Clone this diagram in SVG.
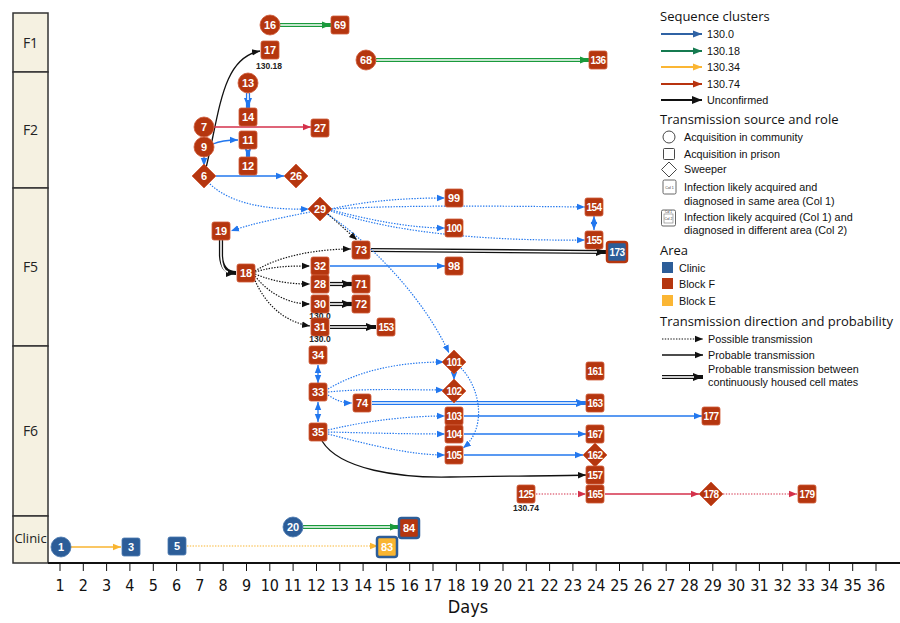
<svg xmlns="http://www.w3.org/2000/svg" width="900" height="623" viewBox="0 0 900 623">
<defs>
<style>
.lane{fill:#f5f1e1;stroke:#333;stroke-width:1.5}
.lt{font-family:"Open Sans","Liberation Sans",sans-serif;font-size:14px;fill:#222;text-anchor:middle}
.sq{fill:#b5360f;stroke:#cf5a38;stroke-width:0.8}
.bl{fill:#2c5d98;stroke:#4a78b0;stroke-width:0.8}
.t{font-family:"Liberation Sans",Arial,sans-serif;font-weight:bold;font-size:11px;fill:#fff;text-anchor:middle;dominant-baseline:central}
.t3{font-size:10px;letter-spacing:-0.5px}
.cl{font-family:"Liberation Sans",Arial,sans-serif;font-weight:bold;font-size:8.5px;fill:#222;text-anchor:middle}
.e{fill:none;stroke-width:1.3}
.eB{stroke:#2277ee}.eK{stroke:#111}.eR{stroke:#d4314b}.eG{stroke:#1a9a3c}.eY{stroke:#f9b531}
.d{stroke-dasharray:1.4 1.4;stroke-width:1.2}
.dbl{stroke-width:4.2}
.w{fill:none;stroke:#fff;stroke-width:1.6}
.ax{font-family:"Liberation Sans Narrow","DejaVu Sans Condensed","Liberation Sans",sans-serif;font-size:16px;fill:#111;text-anchor:middle}
.lh{font-family:"Open Sans","Liberation Sans",sans-serif;font-size:13px;fill:#111}
.li{font-family:"Liberation Sans",Arial,sans-serif;font-size:10.8px;fill:#111}
</style>
<marker id="aB" viewBox="0 0 10 10" refX="10" refY="5" markerWidth="8" markerHeight="8" markerUnits="userSpaceOnUse" orient="auto-start-reverse"><path d="M0,1 L10,5 L0,9 z" fill="#2277ee"/></marker>
<marker id="aK" viewBox="0 0 10 10" refX="10" refY="5" markerWidth="8" markerHeight="8" markerUnits="userSpaceOnUse" orient="auto"><path d="M0,1 L10,5 L0,9 z" fill="#111"/></marker>
<marker id="aR" viewBox="0 0 10 10" refX="10" refY="5" markerWidth="8" markerHeight="8" markerUnits="userSpaceOnUse" orient="auto"><path d="M0,1 L10,5 L0,9 z" fill="#d4314b"/></marker>
<marker id="aG" viewBox="0 0 10 10" refX="10" refY="5" markerWidth="9" markerHeight="9" markerUnits="userSpaceOnUse" orient="auto"><path d="M0,1 L10,5 L0,9 z" fill="#1a9a3c"/></marker>
<marker id="aY" viewBox="0 0 10 10" refX="10" refY="5" markerWidth="8" markerHeight="8" markerUnits="userSpaceOnUse" orient="auto"><path d="M0,1 L10,5 L0,9 z" fill="#f9b531"/></marker>
<marker id="aK2" viewBox="0 0 10 10" refX="10" refY="5" markerWidth="10" markerHeight="10" markerUnits="userSpaceOnUse" orient="auto"><path d="M0,1 L10,5 L0,9 z" fill="#111"/></marker>
<marker id="aB2" viewBox="0 0 10 10" refX="10" refY="5" markerWidth="10" markerHeight="10" markerUnits="userSpaceOnUse" orient="auto"><path d="M0,1 L10,5 L0,9 z" fill="#2277ee"/></marker>
<marker id="lB" viewBox="0 0 10 10" refX="10" refY="5" markerWidth="9" markerHeight="9" markerUnits="userSpaceOnUse" orient="auto"><path d="M0,1 L10,5 L0,9 z" fill="#2f62a4"/></marker>
<marker id="lG" viewBox="0 0 10 10" refX="10" refY="5" markerWidth="9" markerHeight="9" markerUnits="userSpaceOnUse" orient="auto"><path d="M0,1 L10,5 L0,9 z" fill="#157a50"/></marker>
<marker id="lY" viewBox="0 0 10 10" refX="10" refY="5" markerWidth="9" markerHeight="9" markerUnits="userSpaceOnUse" orient="auto"><path d="M0,1 L10,5 L0,9 z" fill="#fbb634"/></marker>
<marker id="lR" viewBox="0 0 10 10" refX="10" refY="5" markerWidth="9" markerHeight="9" markerUnits="userSpaceOnUse" orient="auto"><path d="M0,1 L10,5 L0,9 z" fill="#b8330f"/></marker>
</defs>
<rect width="900" height="623" fill="#fff"/>

<!-- lanes -->
<g id="lanes">
<rect class="lane" x="13" y="13" width="35" height="59"/>
<rect class="lane" x="13" y="72" width="35" height="116"/>
<rect class="lane" x="13" y="188" width="35" height="158"/>
<rect class="lane" x="13" y="346" width="35" height="170"/>
<rect class="lane" x="13" y="516" width="35" height="47"/>
<text class="lt" x="30.5" y="48">F1</text>
<text class="lt" x="30.5" y="135">F2</text>
<text class="lt" x="30.5" y="272">F5</text>
<text class="lt" x="30.5" y="436">F6</text>
<text class="lt" x="30.5" y="543" style="font-size:13px">Clinic</text>
</g>

<!-- axis -->
<g id="axis">
<line x1="48" y1="563" x2="900" y2="563" stroke="#111" stroke-width="2"/>
<path stroke="#111" stroke-width="1" d="M60,563v8M83.3,563v8M106.6,563v8M129.9,563v8M153.3,563v8M176.6,563v8M199.9,563v8M223.2,563v8M246.5,563v8M269.8,563v8M293.1,563v8M316.5,563v8M339.8,563v8M363.1,563v8M386.4,563v8M409.7,563v8M433,563v8M456.3,563v8M479.7,563v8M503,563v8M526.3,563v8M549.6,563v8M572.9,563v8M596.2,563v8M619.5,563v8M642.9,563v8M666.2,563v8M689.5,563v8M712.8,563v8M736.1,563v8M759.4,563v8M782.7,563v8M806.1,563v8M829.4,563v8M852.7,563v8M876,563v8"/>
<g class="ax">
<text x="60" y="591">1</text><text x="83.3" y="591">2</text><text x="106.6" y="591">3</text><text x="129.9" y="591">4</text><text x="153.3" y="591">5</text><text x="176.6" y="591">6</text><text x="199.9" y="591">7</text><text x="223.2" y="591">8</text><text x="246.5" y="591">9</text><text x="269.8" y="591">10</text><text x="293.1" y="591">11</text><text x="316.5" y="591">12</text><text x="339.8" y="591">13</text><text x="363.1" y="591">14</text><text x="386.4" y="591">15</text><text x="409.7" y="591">16</text><text x="433" y="591">17</text><text x="456.3" y="591">18</text><text x="479.7" y="591">19</text><text x="503" y="591">20</text><text x="526.3" y="591">21</text><text x="549.6" y="591">22</text><text x="572.9" y="591">23</text><text x="596.2" y="591">24</text><text x="619.5" y="591">25</text><text x="642.9" y="591">26</text><text x="666.2" y="591">27</text><text x="689.5" y="591">28</text><text x="712.8" y="591">29</text><text x="736.1" y="591">30</text><text x="759.4" y="591">31</text><text x="782.7" y="591">32</text><text x="806.1" y="591">33</text><text x="829.4" y="591">34</text><text x="852.7" y="591">35</text><text x="876" y="591">36</text>
<text x="468" y="613" style="font-size:18px">Days</text>
</g>
</g>

<!-- connectors -->
<g id="connectors">
<!-- double lines -->
<path class="e eG dbl" d="M280,25 L331,25" marker-end="url(#aG)"/><path class="w" d="M280,25 L322,25"/>
<path class="e eG dbl" d="M376,60 L589,60" marker-end="url(#aG)"/><path class="w" d="M376,60 L580,60"/>
<path class="e eG dbl" d="M303,527 L399,527" marker-end="url(#aG)"/><path class="w" d="M303,527 L390,527"/>
<path class="e eB dbl" d="M248,93 L248,108" marker-end="url(#aB2)"/><path class="w" d="M248,93 L248,100"/>
<path class="e eB dbl" d="M248,149 L248,157" marker-end="url(#aB2)"/><path class="w" d="M248,149 L248,150"/>
<path class="e eK dbl" d="M221,240 L221,256 Q222,273 236,273" marker-end="url(#aK2)"/><path class="w" d="M221,240 L221,256 Q222,271 228,272"/>
<path class="e eK dbl" d="M371,250 L606,252" marker-end="url(#aK2)"/><path class="w" d="M371,250 L597,252"/>
<path class="e eK dbl" d="M330,284 L352,284" marker-end="url(#aK2)"/><path class="w" d="M330,284 L343,284"/>
<path class="e eK dbl" d="M330,304 L352,304" marker-end="url(#aK2)"/><path class="w" d="M330,304 L343,304"/>
<path class="e eK dbl" d="M330,327 L376,327" marker-end="url(#aK2)"/><path class="w" d="M330,327 L367,327"/>
<path class="e eB dbl" d="M372,403 L586,403" marker-end="url(#aB2)"/><path class="w" d="M372,403 L577,403"/>

<!-- solid -->
<path class="e eK" d="M206,168 C220,110 222,58 260,51" marker-end="url(#aK)"/>
<path class="e eR" d="M214,127 L311,127" marker-end="url(#aR)"/>
<path class="e eB" d="M213,144 C222,140 230,140 238,140" marker-end="url(#aB)"/>
<path class="e eB" d="M204,157 L204,166" marker-end="url(#aB)"/>
<path class="e eB" d="M216,176 L284,176" marker-end="url(#aB)"/>
<path class="e eB" d="M594,216 L594,230" marker-start="url(#aB)" marker-end="url(#aB)"/>
<path class="e eB" d="M330,266 L445,266" marker-end="url(#aB)"/>
<path class="e eB" d="M318,365 L318,383" marker-start="url(#aB)" marker-end="url(#aB)"/>
<path class="e eB" d="M318,402 L318,422" marker-start="url(#aB)" marker-end="url(#aB)"/>
<path class="e eB" d="M454,373 L454,380" marker-end="url(#aB)"/>
<path class="e eB" d="M464,416 L702,416" marker-end="url(#aB)"/>
<path class="e eB" d="M464,434 L586,434" marker-end="url(#aB)"/>
<path class="e eB" d="M464,455 L583,455" marker-end="url(#aB)"/>
<path class="e eK" d="M322,441 C340,470 400,478 450,477 C500,476 550,476 586,475" marker-end="url(#aK)"/>
<path class="e eR" d="M605,494 L699,494" marker-end="url(#aR)"/>
<path class="e eY" d="M71,547 L121,547" marker-end="url(#aY)"/>

<!-- dotted -->
<path class="e eB d" d="M208,182 C230,205 270,210 309,209" marker-end="url(#aB)"/>
<path class="e eB d" d="M310,212 C280,218 250,224 231,231" marker-end="url(#aB)"/>
<path class="e eB d" d="M331,209 C370,200 410,198 445,198" marker-end="url(#aB)"/>
<path class="e eB d" d="M332,209 C400,205 500,206 585,207" marker-end="url(#aB)"/>
<path class="e eB d" d="M331,210 C370,220 410,228 445,228" marker-end="url(#aB)"/>
<path class="e eB d" d="M331,211 C400,235 500,241 585,240" marker-end="url(#aB)"/>
<path class="e eK d" d="M328,214 L357,240" marker-end="url(#aK)"/>
<path class="e eB d" d="M327,214 C360,235 420,290 449,353" marker-end="url(#aB)"/>
<path class="e eK d" d="M255,271 C280,255 320,249 351,249" marker-end="url(#aK)"/>
<path class="e eK d" d="M255,272 C275,266 290,266 310,266" marker-end="url(#aK)"/>
<path class="e eK d" d="M255,274 C275,282 290,284 310,284" marker-end="url(#aK)"/>
<path class="e eK d" d="M255,276 C270,295 290,304 310,304" marker-end="url(#aK)"/>
<path class="e eK d" d="M254,278 C265,305 285,322 310,326" marker-end="url(#aK)"/>
<path class="e eB d" d="M328,389 C360,370 400,362 444,362" marker-end="url(#aB)"/>
<path class="e eB d" d="M328,392 C370,388 410,390 444,390" marker-end="url(#aB)"/>
<path class="e eB d" d="M328,395 C335,400 343,403 352,403" marker-end="url(#aB)"/>
<path class="e eB d" d="M461,368 C482,390 486,430 463,448" marker-end="url(#aB)"/>
<path class="e eB d" d="M328,430 C370,420 410,416 445,416" marker-end="url(#aB)"/>
<path class="e eB d" d="M328,432 C370,433 410,434 445,434" marker-end="url(#aB)"/>
<path class="e eB d" d="M328,434 C370,445 410,455 445,455" marker-end="url(#aB)"/>
<path class="e eR d" d="M536,494 L586,494" marker-end="url(#aR)"/>
<path class="e eR d" d="M723,494 L797,494" marker-end="url(#aR)"/>
<path class="e eY d" d="M187,546 L378,546" marker-end="url(#aY)"/>
</g>

<!-- nodes -->
<g id="n16"><circle class="sq" cx="270" cy="25" r="10"/><text class="t" x="270" y="25">16</text></g>
<g id="n69"><rect class="sq" x="331" y="16" width="18" height="18" rx="2"/><text class="t" x="340" y="25">69</text></g>
<g id="n17"><rect class="sq" x="261" y="41" width="18" height="18" rx="2"/><text class="t" x="270" y="50">17</text><text class="cl" x="269" y="69">130.18</text></g>
<g id="n68"><circle class="sq" cx="366" cy="60" r="10"/><text class="t" x="366" y="60">68</text></g>
<g id="n136"><rect class="sq" x="589" y="51" width="18" height="18" rx="2"/><text class="t t3" x="598" y="60">136</text></g>
<g id="n13"><circle class="sq" cx="248" cy="83" r="10"/><text class="t" x="248" y="83">13</text></g>
<g id="n14"><rect class="sq" x="239" y="108" width="18" height="18" rx="2"/><text class="t" x="248" y="117">14</text></g>
<g id="n7"><circle class="sq" cx="204" cy="127" r="10"/><text class="t" x="204" y="127">7</text></g>
<g id="n27"><rect class="sq" x="311" y="119" width="18" height="18" rx="2"/><text class="t" x="320" y="128">27</text></g>
<g id="n9"><circle class="sq" cx="204" cy="147" r="10"/><text class="t" x="204" y="147">9</text></g>
<g id="n11"><rect class="sq" x="239" y="131" width="18" height="18" rx="2"/><text class="t" x="248" y="140">11</text></g>
<g id="n12"><rect class="sq" x="239" y="157" width="18" height="18" rx="2"/><text class="t" x="248" y="166">12</text></g>
<g id="n6"><polygon class="sq" points="204,164 216,176 204,188 192,176"/><text class="t" x="204" y="176">6</text></g>
<g id="n26"><polygon class="sq" points="296,164 308,176 296,188 284,176"/><text class="t" x="296" y="176">26</text></g>
<g id="n29"><polygon class="sq" points="320,197 332,209 320,221 308,209"/><text class="t" x="320" y="209">29</text></g>
<g id="n99"><rect class="sq" x="445" y="189" width="18" height="18" rx="2"/><text class="t" x="454" y="198">99</text></g>
<g id="n154"><rect class="sq" x="585" y="198" width="18" height="18" rx="2"/><text class="t t3" x="594" y="207">154</text></g>
<g id="n19"><rect class="sq" x="212" y="222" width="18" height="18" rx="2"/><text class="t" x="221" y="231">19</text></g>
<g id="n100"><rect class="sq" x="445" y="219" width="18" height="18" rx="2"/><text class="t t3" x="454" y="228">100</text></g>
<g id="n155"><rect class="sq" x="585" y="231" width="18" height="18" rx="2"/><text class="t t3" x="594" y="240">155</text></g>
<g id="n173"><rect x="607" y="242" width="20" height="20" rx="2.5" fill="#2c5d98" stroke="#b5360f" stroke-width="2.5"/><text class="t t3" x="617" y="252">173</text></g>
<g id="n73"><rect class="sq" x="352" y="241" width="18" height="18" rx="2"/><text class="t" x="361" y="250">73</text></g>
<g id="n18"><rect class="sq" x="237" y="264" width="18" height="18" rx="2"/><text class="t" x="246" y="273">18</text></g>
<g id="n32"><rect class="sq" x="311" y="257" width="18" height="18" rx="2"/><text class="t" x="320" y="266">32</text></g>
<g id="n98"><rect class="sq" x="445" y="257" width="18" height="18" rx="2"/><text class="t" x="454" y="266">98</text></g>
<g id="n28"><rect class="sq" x="311" y="275" width="18" height="18" rx="2"/><text class="t" x="320" y="284">28</text></g>
<g id="n71"><rect class="sq" x="352" y="275" width="18" height="18" rx="2"/><text class="t" x="361" y="284">71</text></g>
<g id="n30"><rect class="sq" x="311" y="295" width="18" height="18" rx="2"/><text class="t" x="320" y="304">30</text><text class="cl" x="320" y="318.5">130.0</text></g>
<g id="n72"><rect class="sq" x="352" y="295" width="18" height="18" rx="2"/><text class="t" x="361" y="304">72</text></g>
<g id="n31"><rect class="sq" x="311" y="318" width="18" height="18" rx="2"/><text class="t" x="320" y="327">31</text><text class="cl" x="320" y="341.5">130.0</text></g>
<g id="n153"><rect class="sq" x="377" y="318" width="18" height="18" rx="2"/><text class="t t3" x="386" y="327">153</text></g>
<g id="n34"><rect class="sq" x="309" y="346" width="18" height="18" rx="2"/><text class="t" x="318" y="355">34</text></g>
<g id="n33"><rect class="sq" x="309" y="383" width="18" height="18" rx="2"/><text class="t" x="318" y="392">33</text></g>
<g id="n101"><polygon class="sq" points="454,350 466,362 454,374 442,362"/><text class="t t3" x="454" y="362">101</text></g>
<g id="n102"><polygon class="sq" points="454,379 466,391 454,403 442,391"/><text class="t t3" x="454" y="391">102</text></g>
<g id="n74"><rect class="sq" x="353" y="394" width="18" height="18" rx="2"/><text class="t" x="362" y="403">74</text></g>
<g id="n161"><rect class="sq" x="586" y="362" width="18" height="18" rx="2"/><text class="t t3" x="595" y="371">161</text></g>
<g id="n163"><rect class="sq" x="586" y="394" width="18" height="18" rx="2"/><text class="t t3" x="595" y="403">163</text></g>
<g id="n103"><rect class="sq" x="445" y="407" width="18" height="18" rx="2"/><text class="t t3" x="454" y="416">103</text></g>
<g id="n177"><rect class="sq" x="702" y="407" width="18" height="18" rx="2"/><text class="t t3" x="711" y="416">177</text></g>
<g id="n35"><rect class="sq" x="309" y="423" width="18" height="18" rx="2"/><text class="t" x="318" y="432">35</text></g>
<g id="n104"><rect class="sq" x="445" y="425" width="18" height="18" rx="2"/><text class="t t3" x="454" y="434">104</text></g>
<g id="n167"><rect class="sq" x="586" y="425" width="18" height="18" rx="2"/><text class="t t3" x="595" y="434">167</text></g>
<g id="n105"><rect class="sq" x="445" y="446" width="18" height="18" rx="2"/><text class="t t3" x="454" y="455">105</text></g>
<g id="n162"><polygon class="sq" points="595,443 607,455 595,467 583,455"/><text class="t t3" x="595" y="455">162</text></g>
<g id="n157"><rect class="sq" x="586" y="466" width="18" height="18" rx="2"/><text class="t t3" x="595" y="475">157</text></g>
<g id="n125"><rect class="sq" x="517" y="485" width="18" height="18" rx="2"/><text class="t t3" x="526" y="494">125</text><text class="cl" x="526" y="511">130.74</text></g>
<g id="n165"><rect class="sq" x="586" y="485" width="18" height="18" rx="2"/><text class="t t3" x="595" y="494">165</text></g>
<g id="n178"><polygon class="sq" points="711,482 723,494 711,506 699,494"/><text class="t t3" x="711" y="494">178</text></g>
<g id="n179"><rect class="sq" x="798" y="485" width="18" height="18" rx="2"/><text class="t t3" x="807" y="494">179</text></g>
<g id="n20"><circle class="bl" cx="293" cy="527" r="10"/><text class="t" x="293" y="527">20</text></g>
<g id="n84"><rect x="399" y="518" width="20" height="20" rx="2.5" fill="#b5360f" stroke="#2c5d98" stroke-width="2.5"/><text class="t" x="409" y="528">84</text></g>
<g id="n1"><circle class="bl" cx="61" cy="547" r="10"/><text class="t" x="61" y="547">1</text></g>
<g id="n3"><rect class="bl" x="122" y="538" width="18" height="18" rx="2"/><text class="t" x="131" y="547">3</text></g>
<g id="n5"><rect class="bl" x="168" y="537" width="18" height="18" rx="2"/><text class="t" x="177" y="546">5</text></g>
<g id="n83"><rect x="377" y="537" width="20" height="20" rx="2.5" fill="#f9b531" stroke="#2c5d98" stroke-width="2.5"/><text class="t" x="387" y="547">83</text></g>

<!-- legend -->
<g id="legend">
<text class="lh" x="660" y="21">Sequence clusters</text>
<line x1="661" y1="34" x2="702" y2="34" stroke="#2f62a4" stroke-width="2.2" marker-end="url(#lB)"/><text class="li" x="707" y="38">130.0</text>
<line x1="661" y1="51" x2="702" y2="51" stroke="#157a50" stroke-width="2.2" marker-end="url(#lG)"/><text class="li" x="707" y="55">130.18</text>
<line x1="661" y1="67" x2="702" y2="67" stroke="#fbb634" stroke-width="2.2" marker-end="url(#lY)"/><text class="li" x="707" y="71">130.34</text>
<line x1="661" y1="84" x2="702" y2="84" stroke="#b8330f" stroke-width="2.2" marker-end="url(#lR)"/><text class="li" x="707" y="88">130.74</text>
<line x1="661" y1="100" x2="702" y2="100" stroke="#111" stroke-width="2.2" marker-end="url(#aK2)"/><text class="li" x="707" y="104">Unconfirmed</text>
<text class="lh" x="660" y="124">Transmission source and role</text>
<circle cx="669" cy="137" r="6" fill="none" stroke="#333" stroke-width="0.9"/><text class="li" x="684" y="141">Acquisition in community</text>
<rect x="663.5" y="148.5" width="11" height="11" rx="1" fill="none" stroke="#333" stroke-width="0.9"/><text class="li" x="684" y="158">Acquisition in prison</text>
<polygon points="669,162 676.5,169.5 669,177 661.5,169.5" fill="none" stroke="#333" stroke-width="0.9"/><text class="li" x="684" y="173">Sweeper</text>
<rect x="663" y="180" width="13" height="14" rx="1.5" fill="none" stroke="#555" stroke-width="0.9"/><text x="669.5" y="188.5" font-family="Liberation Sans,Arial,sans-serif" font-size="3.6" text-anchor="middle" fill="#333">Col 1</text>
<text class="li" x="684" y="191">Infection likely acquired and</text><text class="li" x="684" y="205">diagnosed in same area (Col 1)</text>
<rect x="661.5" y="210" width="14" height="16" rx="1.5" fill="none" stroke="#555" stroke-width="0.9"/><rect x="664" y="214" width="9" height="9" fill="none" stroke="#777" stroke-width="0.6"/><text x="668.5" y="212.8" font-family="Liberation Sans,Arial,sans-serif" font-size="3" text-anchor="middle" fill="#333">Col 1</text><text x="668.5" y="220" font-family="Liberation Sans,Arial,sans-serif" font-size="3.4" text-anchor="middle" fill="#333">Col 2</text>
<text class="li" x="684" y="221">Infection likely acquired (Col 1) and</text><text class="li" x="684" y="234">diagnosed in different area (Col 2)</text>
<text class="lh" x="660" y="255">Area</text>
<rect x="662" y="262" width="11" height="11" fill="#2c5d98"/><text class="li" x="679" y="272">Clinic</text>
<rect x="662" y="278" width="11" height="11" fill="#b5360f"/><text class="li" x="679" y="288">Block F</text>
<rect x="662" y="295" width="11" height="11" fill="#fbb634"/><text class="li" x="679" y="305">Block E</text>
<text class="lh" x="660" y="326">Transmission direction and probability</text>
<line x1="662" y1="339" x2="703" y2="339" stroke="#111" stroke-width="1.2" stroke-dasharray="1.4 1.4" marker-end="url(#aK)"/><text class="li" x="708" y="343">Possible transmission</text>
<line x1="662" y1="355" x2="703" y2="355" stroke="#111" stroke-width="1.6" marker-end="url(#aK)"/><text class="li" x="708" y="359">Probable transmission</text>
<line x1="662" y1="377" x2="703" y2="377" stroke="#111" stroke-width="4.2" marker-end="url(#aK2)"/><line x1="662" y1="377" x2="694" y2="377" stroke="#fff" stroke-width="1.6"/>
<text class="li" x="708" y="373">Probable transmission between</text><text class="li" x="708" y="386">continuously housed cell mates</text>
</g>
</svg>
